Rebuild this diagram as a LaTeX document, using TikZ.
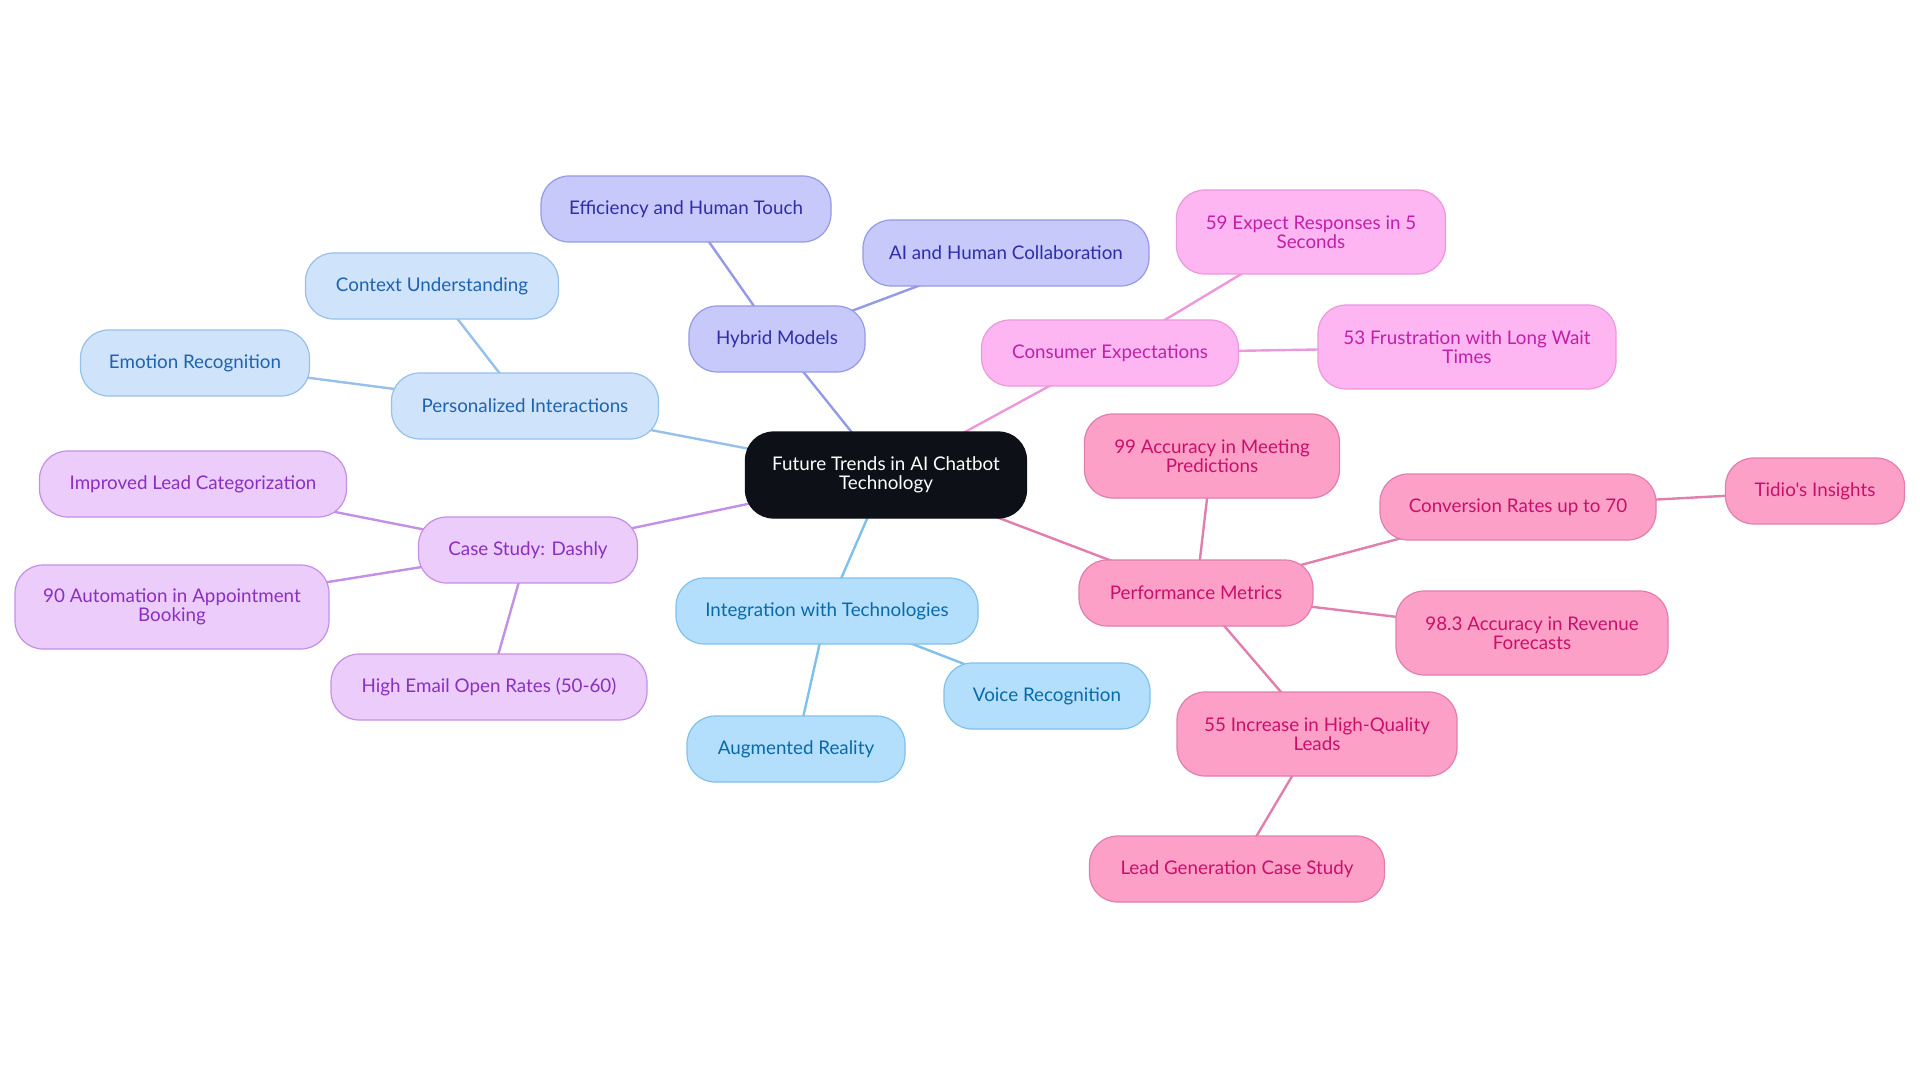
\documentclass[tikz,border=0pt]{standalone}
\usepackage{fontspec}
\setmainfont{Lato}[Ligatures=TeXOff]
\usetikzlibrary{backgrounds}
\definecolor{rootfill}{HTML}{0D1117}
\definecolor{hyfill}{HTML}{C7C9FB}\definecolor{hyline}{HTML}{959AE6}\definecolor{hytext}{HTML}{2E2EA8}
\definecolor{pifill}{HTML}{CFE3FB}\definecolor{piline}{HTML}{97C0EA}\definecolor{pitext}{HTML}{1E63B0}
\definecolor{csfill}{HTML}{EBCCFB}\definecolor{csline}{HTML}{C490E6}\definecolor{cstext}{HTML}{8A2FC0}
\definecolor{itfill}{HTML}{B3DFFC}\definecolor{itline}{HTML}{80C1EC}\definecolor{ittext}{HTML}{0A6AA8}
\definecolor{cefill}{HTML}{FDB6F2}\definecolor{celine}{HTML}{EC98DC}\definecolor{cetext}{HTML}{C020A8}
\definecolor{pmfill}{HTML}{FDA0C8}\definecolor{pmline}{HTML}{E27EAE}\definecolor{pmtext}{HTML}{C8106A}
\tikzset{
  x=1pt, y=-1pt,
  box/.style={rounded corners=28pt, draw, line width=1.2pt, align=center, inner sep=0pt,
    minimum height=66pt, font=\fontsize{18.8}{19.5}\selectfont},
  tall/.style={minimum height=84pt},
  rootbox/.style={box, fill=rootfill, draw=rootfill, text=white},
  hy/.style={box, fill=hyfill, draw=hyline, text=hytext},
  pi/.style={box, fill=pifill, draw=piline, text=pitext},
  cs/.style={box, fill=csfill, draw=csline, text=cstext},
  it/.style={box, fill=itfill, draw=itline, text=ittext},
  ce/.style={box, fill=cefill, draw=celine, text=cetext},
  pm/.style={box, fill=pmfill, draw=pmline, text=pmtext},
  link/.style={line width=2.4pt},
}
\begin{document}
\begin{tikzpicture}
\useasboundingbox (0,0) rectangle (1920,1083);
\node[rootbox, minimum width=281pt, minimum height=86pt] (root) at (886,475) {Future Trends in AI Chatbot\\Technology};
% Hybrid
\node[hy, minimum width=176pt] (hyb) at (777,339) {Hybrid Models};
\node[hy, minimum width=290pt] (eff) at (686,209) {Efficiency and Human Touch};
\node[hy, minimum width=286pt] (aih) at (1006,253) {AI and Human Collaboration};
% Personalized
\node[pi, minimum width=267pt] (per) at (525,406) {Personalized Interactions};
\node[pi, minimum width=253pt] (ctx) at (432,286) {Context Understanding};
\node[pi, minimum width=229pt] (emo) at (195,363) {Emotion Recognition};
% Dashly
\node[cs, minimum width=219pt] (das) at (528,550) {Case Study: Dashly};
\node[cs, minimum width=307pt] (ilc) at (193,484) {Improved Lead Categorization};
\node[cs, tall, minimum width=314pt] (aut) at (172,607) {90 Automation in Appointment\\Booking};
\node[cs, minimum width=316pt] (eml) at (489,687) {High Email Open Rates (50-60)};
% Integration
\node[it, minimum width=302pt] (int) at (827,611) {Integration with Technologies};
\node[it, minimum width=206pt] (voi) at (1047,696) {Voice Recognition};
\node[it, minimum width=218pt] (aug) at (796,749) {Augmented Reality};
% Consumer
\node[ce, minimum width=257pt] (con) at (1110,353) {Consumer Expectations};
\node[ce, tall, minimum width=269pt] (exp) at (1311,232) {59 Expect Responses in 5\\Seconds};
\node[ce, tall, minimum width=298pt] (fru) at (1467,347) {53 Frustration with Long Wait\\Times};
% Performance
\node[pm, minimum width=234pt] (perf) at (1196,593) {Performance Metrics};
\node[pm, tall, minimum width=255pt] (acc) at (1212,456) {99 Accuracy in Meeting\\Predictions};
\node[pm, minimum width=276pt] (cvr) at (1518,507) {Conversion Rates up to 70};
\node[pm, minimum width=179pt] (tid) at (1815,491) {Tidio's Insights};
\node[pm, tall, minimum width=272pt] (rev) at (1532,633) {98.3 Accuracy in Revenue\\Forecasts};
\node[pm, tall, minimum width=280pt] (hql) at (1317,734) {55 Increase in High-Quality\\Leads};
\node[pm, minimum width=295pt] (lgc) at (1237,869) {Lead Generation Case Study};
\begin{scope}[on background layer]
\fill[white] (0,0) rectangle (1920,1083);
\draw[link, hyline] (root.center) -- (hyb.center);
\draw[link, hyline] (hyb.center) -- (eff.center);
\draw[link, hyline] (hyb.center) -- (aih.center);
\draw[link, piline] (root.center) -- (per.center);
\draw[link, piline] (per.center) -- (ctx.center);
\draw[link, piline] (per.center) -- (emo.center);
\draw[link, csline] (root.center) -- (das.center);
\draw[link, csline] (das.center) -- (ilc.center);
\draw[link, csline] (das.center) -- (aut.center);
\draw[link, csline] (das.center) -- (eml.center);
\draw[link, itline] (root.center) -- (int.center);
\draw[link, itline] (int.center) -- (voi.center);
\draw[link, itline] (int.center) -- (aug.center);
\draw[link, celine] (root.center) -- (con.center);
\draw[link, celine] (con.center) -- (exp.center);
\draw[link, celine] (con.center) -- (fru.center);
\draw[link, pmline] (root.center) -- (perf.center);
\draw[link, pmline] (perf.center) -- (acc.center);
\draw[link, pmline] (perf.center) -- (cvr.center);
\draw[link, pmline] (cvr.center) -- (tid.center);
\draw[link, pmline] (perf.center) -- (rev.center);
\draw[link, pmline] (perf.center) -- (hql.center);
\draw[link, pmline] (hql.center) -- (lgc.center);
\end{scope}
\end{tikzpicture}
\end{document}
